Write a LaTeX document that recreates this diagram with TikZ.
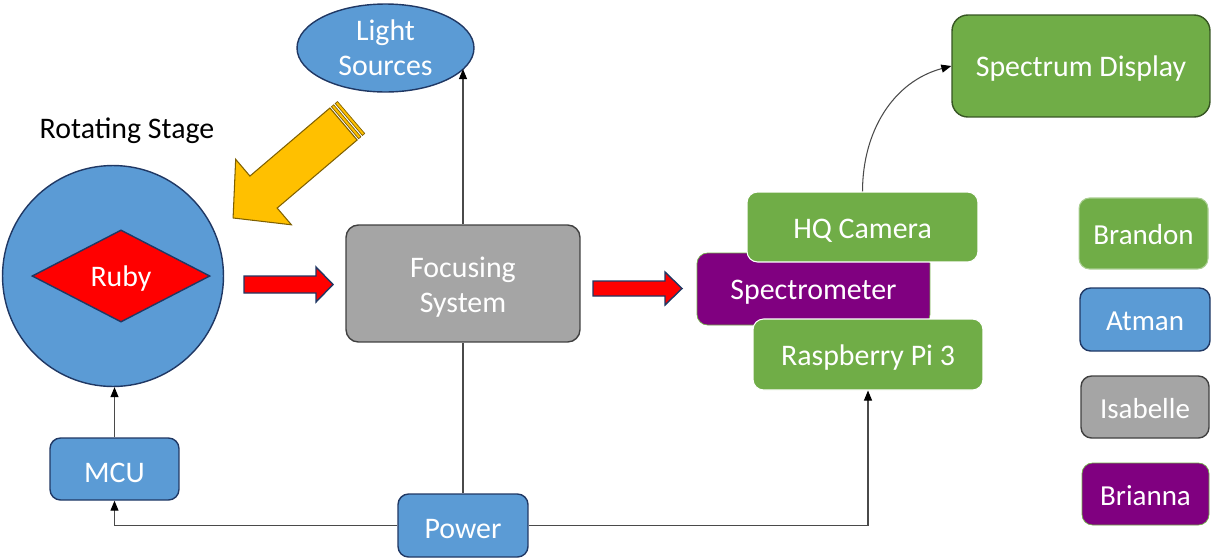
\documentclass[tikz,border=0pt]{standalone}
\usepackage{fontspec}
\setmainfont{Carlito}
\usepackage{tikz}
\usetikzlibrary{arrows.meta,shapes.geometric,positioning}
\definecolor{specblue}{HTML}{5B9BD5}
\definecolor{specnavy}{HTML}{203864}
\definecolor{specgreen}{HTML}{70AD47}
\definecolor{specdkgreen}{HTML}{375623}
\definecolor{specgray}{HTML}{A5A5A5}
\definecolor{specdkgray}{HTML}{404040}
\definecolor{specpurple}{HTML}{800080}
\definecolor{specyellow}{HTML}{FFC000}
\definecolor{specbrown}{HTML}{7F6000}
\definecolor{specline}{HTML}{4A4A4A}

\begin{document}
\begin{tikzpicture}[
    x=0.02cm, y=-0.02cm,
    font=\fontsize{17}{20}\selectfont,
    textlift/.store in=\textlift, textlift=15pt,
    lowtext/.style={execute at begin node={\rule{0pt}{\textlift}}},
    bluebox/.style={draw=specnavy, fill=specblue, rounded corners=6pt, text=white,
                    align=center, inner sep=2pt, line width=0.8pt, lowtext},
    greenbox/.style={draw=white, fill=specgreen, rounded corners=6pt, text=white,
                     align=center, inner sep=2pt, line width=0.6pt, lowtext},
    graybox/.style={draw=specdkgray, fill=specgray, rounded corners=7pt, text=white,
                    align=center, inner sep=2pt, line width=0.8pt, lowtext},
    purplebox/.style={draw=specgreen, fill=specpurple, rounded corners=6pt, text=white,
                      align=center, inner sep=2pt, line width=0.4pt, lowtext},
    legend/.style={font=\fontsize{16.5}{19}\selectfont, textlift=13pt},
    blockarrow/.style={draw=specnavy, fill=red, line width=0.8pt, line join=miter},
    conn/.style={-{Triangle[length=2mm, width=1.6mm, color=black]}, draw=specline, line width=0.6pt},
    wire/.style={draw=specline, line width=0.6pt}
]
\useasboundingbox (0,0) rectangle (1212,558);

\node[circle, draw=specnavy, fill=specblue, line width=0.8pt, minimum size=4.42cm] (stage) at (113,276) {};
\node[diamond, draw=specnavy, fill=red, line width=0.8pt, text=white, inner sep=0pt, lowtext,
      minimum width=3.56cm, minimum height=1.8cm] (ruby) at (121,276) {Ruby};
\node[lowtext] (stagelabel) at (127,128) {Rotating Stage};

\node[ellipse, draw=specnavy, fill=specblue, line width=0.8pt, text=white, align=center,
      inner sep=0pt, minimum width=3.54cm, minimum height=1.76cm] (lights) at (385.5,48) {Light\\Sources};

\node[graybox, minimum width=4.68cm, minimum height=2.34cm] (focus) at (463,283.5)
  {\begin{tabular}{@{}c@{}}Focusing\rule{0pt}{19.5pt}\\System\end{tabular}};

\node[purplebox, minimum width=4.66cm, minimum height=1.44cm] (spectro) at (813.5,289) {Spectrometer};
\node[greenbox, minimum width=4.62cm, minimum height=1.40cm] (camera) at (862.5,227) {HQ Camera};
\node[greenbox, minimum width=4.60cm, minimum height=1.42cm] (pi) at (868,354.5) {Raspberry Pi 3};
\node[greenbox, draw=specdkgreen, line width=0.8pt, rounded corners=9pt,
      minimum width=5.16cm, minimum height=2.04cm] (display) at (1081,66) {Spectrum Display};

\node[bluebox, minimum width=2.58cm, minimum height=1.24cm] (mcu) at (114.5,469) {MCU};
\node[bluebox, minimum width=2.60cm, minimum height=1.26cm] (power) at (463,525.5) {Power};

\node[greenbox, draw=specgreen!60, legend,
      minimum width=2.58cm, minimum height=1.42cm] (brandon) at (1143.5,233.5) {Brandon};
\node[bluebox, legend,
      minimum width=2.60cm, minimum height=1.26cm] (atman) at (1145,319.5) {Atman};
\node[graybox, rounded corners=6pt, legend,
      minimum width=2.56cm, minimum height=1.24cm] (isabelle) at (1145,407) {Isabelle};
\node[purplebox, legend,
      minimum width=2.54cm, minimum height=1.24cm] (brianna) at (1145.5,494) {Brianna};

\begin{scope}[shift={(343.5,124)}, rotate=220.4]
  \draw[fill=specyellow, draw=specbrown, line width=0.6pt, line join=miter]
    (0,-21) -- (105,-21) -- (105,-43) -- (145,0) -- (105,43) -- (105,21) -- (0,21) -- cycle;
  \draw[fill=specyellow, draw=specbrown, line width=0.4pt] (-2,-21) rectangle (-5,21);
  \draw[fill=specyellow, draw=specbrown, line width=0.4pt] (-7,-21) rectangle (-10,21);
\end{scope}

\draw[blockarrow] (244,276) -- (316,276) -- (316,267) -- (333,284.5) -- (316,302) -- (316,293) -- (244,293) -- cycle;
\draw[blockarrow] (593,281) -- (665,281) -- (665,272) -- (682,288.5) -- (665,305) -- (665,296) -- (593,296) -- cycle;

\draw[conn] (mcu.north) -- (mcu.north |- stage.south);
\draw[conn] (power.west) -| (mcu.south);
\draw[conn] (power.east) -| (pi.south);
\draw[wire] (power.north) -- (focus.south);
\draw[conn] (focus.north) -- (focus.north |- lights.-15);
\draw[conn] (camera.north) to[out=90, in=195] (display.west);
\end{tikzpicture}
\end{document}
